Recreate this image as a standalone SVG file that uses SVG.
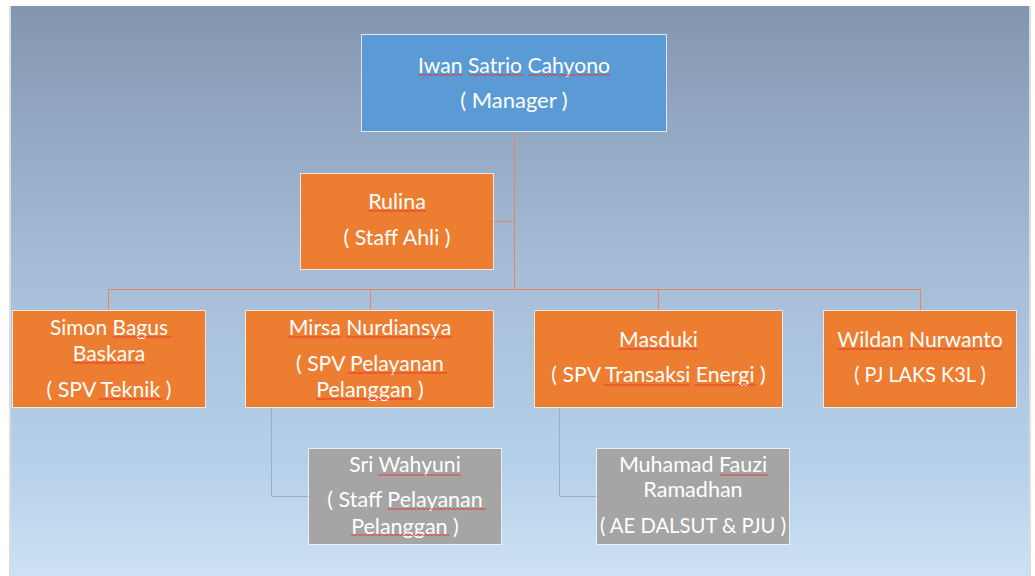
<svg xmlns="http://www.w3.org/2000/svg" width="1035" height="576" viewBox="0 0 1035 576">
<defs>
<linearGradient id="bg" x1="0" y1="0" x2="0" y2="1">
<stop offset="0" stop-color="#8396b0"/>
<stop offset="0.45" stop-color="#a5bcd6"/>
<stop offset="0.8" stop-color="#b5d0ea"/>
<stop offset="1" stop-color="#cde1f3"/>
</linearGradient>
<pattern id="wave" width="4" height="2" patternUnits="userSpaceOnUse">
<path d="M0 1.6 L2 0.4 L4 1.6" fill="none" stroke="#e8322b" stroke-width="0.9"/>
</pattern>
</defs>
<style>
.box{stroke:#ffffff;stroke-opacity:.75;stroke-width:1}
.blue{fill:#5b9bd5}
.orange{fill:#ed7d31}
.gray{fill:#a5a5a5}
.t{font-family:Lato,"Open Sans","Liberation Sans",sans-serif;font-size:21px;fill:#ffffff;text-anchor:middle}
.c{fill:none;stroke:#e5875a;stroke-width:1}
.cg{fill:none;stroke:#a3adb8;stroke-width:1}
.sq{fill:url(#wave)}
</style>
<rect x="0" y="0" width="1035" height="576" fill="#ffffff"/>
<rect x="9" y="6" width="1022" height="570" fill="#dcdcdc"/>
<rect x="11" y="6" width="1018" height="570" fill="url(#bg)"/>

<g id="connectors">
<path class="c" d="M514.5 132 V289.5 M494 221.5 H514.5 M108.5 289.5 H920.5 M108.5 289.5 V310 M370.5 289.5 V310 M658.5 289.5 V310 M920.5 289.5 V310"/>
<path class="cg" d="M271.5 408 V496.5 H308.5 M559.5 408 V496.5 H596.5"/>
</g>

<g id="n-manager">
<rect class="box blue" x="361.5" y="34.5" width="305" height="97"/>
<text class="t" x="514" y="73" textLength="192" lengthAdjust="spacingAndGlyphs">Iwan Satrio Cahyono</text>
<text class="t" x="514" y="107.5" textLength="107.5" lengthAdjust="spacingAndGlyphs">( Manager )</text>
<rect class="sq" x="418.5" y="74" width="45" height="2"/>
<rect class="sq" x="468.5" y="74" width="54.5" height="2"/>
<rect class="sq" x="528" y="74" width="82" height="2"/>
</g>

<g id="n-rulina">
<rect class="box orange" x="300.5" y="173.5" width="193" height="96"/>
<text class="t" x="397" y="209" textLength="57.7" lengthAdjust="spacingAndGlyphs">Rulina</text>
<text class="t" x="397" y="245" textLength="107" lengthAdjust="spacingAndGlyphs">( Staff Ahli )</text>
<rect class="sq" x="368.5" y="210" width="57.5" height="2"/>
</g>

<g id="n-simon">
<rect class="box orange" x="12.5" y="310.5" width="193" height="97"/>
<text class="t" x="109" y="335" textLength="118" lengthAdjust="spacingAndGlyphs">Simon Bagus</text>
<text class="t" x="109" y="361" textLength="72.4" lengthAdjust="spacingAndGlyphs">Baskara</text>
<text class="t" x="109" y="396.7" textLength="124.9" lengthAdjust="spacingAndGlyphs">( SPV Teknik )</text>
<rect class="sq" x="113" y="336" width="58" height="2"/>
<rect class="sq" x="72.8" y="362" width="72.4" height="2"/>
<rect class="sq" x="99" y="398" width="63" height="2"/>
</g>

<g id="n-mirsa">
<rect class="box orange" x="245.5" y="310.5" width="248" height="97"/>
<text class="t" x="370" y="335" textLength="162.6" lengthAdjust="spacingAndGlyphs">Mirsa Nurdiansya</text>
<text class="t" x="370" y="370.7" textLength="147.8" lengthAdjust="spacingAndGlyphs">( SPV Pelayanan</text>
<text class="t" x="370" y="396.7" textLength="107.7" lengthAdjust="spacingAndGlyphs">Pelanggan )</text>
<rect class="sq" x="288.5" y="336" width="52.5" height="2"/>
<rect class="sq" x="346" y="336" width="105.5" height="2"/>
<rect class="sq" x="348.5" y="372" width="98.5" height="2"/>
<rect class="sq" x="316" y="398" width="98" height="2"/>
</g>

<g id="n-masduki">
<rect class="box orange" x="534.5" y="310.5" width="248" height="97"/>
<text class="t" x="658.5" y="346.7" textLength="78.9" lengthAdjust="spacingAndGlyphs">Masduki</text>
<text class="t" x="658.5" y="382.4" textLength="214.3" lengthAdjust="spacingAndGlyphs">( SPV Transaksi Energi )</text>
<rect class="sq" x="619" y="348" width="78.5" height="2"/>
<rect class="sq" x="603.5" y="384" width="86" height="2"/>
<rect class="sq" x="695" y="384" width="61" height="2"/>
</g>

<g id="n-wildan">
<rect class="box orange" x="823.5" y="310.5" width="193" height="97"/>
<text class="t" x="920" y="346.7" textLength="165.5" lengthAdjust="spacingAndGlyphs">Wildan Nurwanto</text>
<text class="t" x="920" y="382.4" textLength="131.6" lengthAdjust="spacingAndGlyphs">( PJ LAKS K3L )</text>
<rect class="sq" x="837.5" y="348" width="66" height="2"/>
<rect class="sq" x="908.5" y="348" width="94" height="2"/>
</g>

<g id="n-sri">
<rect class="box gray" x="308.5" y="448.5" width="193" height="96"/>
<text class="t" x="405" y="471.7" textLength="111.5" lengthAdjust="spacingAndGlyphs">Sri Wahyuni</text>
<text class="t" x="405" y="507.3" textLength="155.5" lengthAdjust="spacingAndGlyphs">( Staff Pelayanan</text>
<text class="t" x="405" y="533.5" textLength="107.7" lengthAdjust="spacingAndGlyphs">Pelanggan )</text>
<rect class="sq" x="378" y="474" width="83" height="2"/>
<rect class="sq" x="387.5" y="508" width="98.5" height="2"/>
<rect class="sq" x="351" y="534" width="98" height="2"/>
</g>

<g id="n-muhamad">
<rect class="box gray" x="596.5" y="448.5" width="193" height="96"/>
<text class="t" x="693" y="471.7" textLength="148.2" lengthAdjust="spacingAndGlyphs">Muhamad Fauzi</text>
<text class="t" x="693" y="497.3" textLength="99.3" lengthAdjust="spacingAndGlyphs">Ramadhan</text>
<text class="t" x="693" y="533.3" textLength="186.2" lengthAdjust="spacingAndGlyphs">( AE DALSUT &amp; PJU )</text>
<rect class="sq" x="720" y="474" width="47.5" height="2"/>
</g>
</svg>
